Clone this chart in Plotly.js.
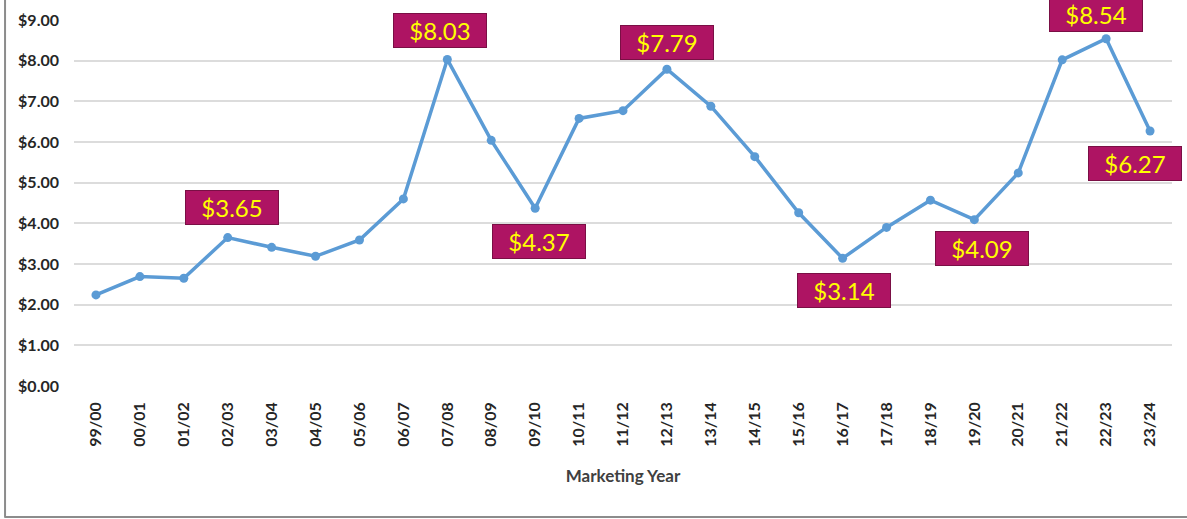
<!DOCTYPE html>
<html>
<head>
<meta charset="utf-8">
<script src="https://cdn.plot.ly/plotly-3.0.1.min.js"></script>
<style>html,body{margin:0;padding:0;background:#fff;}#chart{width:1187px;height:519px;}</style>
</head>
<body>
<div id="chart"></div>
<script>
// Marketing years (categories)
const years = ["99/00","00/01","01/02","02/03","03/04","04/05","05/06","06/07","07/08","08/09",
  "09/10","10/11","11/12","12/13","13/14","14/15","15/16","16/17","17/18","18/19",
  "19/20","20/21","21/22","22/23","23/24"];
// Price ($ per bushel)
const prices = [2.24,2.69,2.65,3.65,3.41,3.19,3.59,4.60,8.03,6.04,
  4.37,6.58,6.77,7.79,6.88,5.64,4.26,3.14,3.90,4.57,
  4.09,5.24,8.02,8.54,6.27];
// Years that carry a value label
const labeledYears = ["02/03","07/08","09/10","12/13","16/17","19/20","22/23","23/24"];
// Y tick values
const yTicks = [0,1,2,3,4,5,6,7,8,9];

// label placement (pixel shifts), kept apart from the data
const labelShift = {
  "02/03":[4,30], "07/08":[-7,29], "09/10":[4,-33], "12/13":[0,27],
  "16/17":[1,-32], "19/20":[8,-29], "22/23":[-10,24], "23/24":[-15,-32]
};

const trace = {
  type: "scatter",
  mode: "lines+markers",
  x: years,
  y: prices,
  line: {color: "#5B9BD5", width: 3.5},
  marker: {color: "#5B9BD5", size: 9},
  hoverinfo: "x+y"
};

const annotations = labeledYears.map(yr => {
  const i = years.indexOf(yr);
  const s = labelShift[yr];
  return {
    x: yr, y: prices[i], xref: "x", yref: "y",
    text: "$" + prices[i].toFixed(2),
    showarrow: false,
    xshift: s[0], yshift: s[1],
    font: {family: "Lato, 'Open Sans', sans-serif", size: 24, color: "#FFFF00"},
    bgcolor: "#AE1463",
    bordercolor: "#7A0F45",
    borderwidth: 1,
    borderpad: 1,
    width: 90, height: 31
  };
});

const tickFont = {family: "Lato, 'Open Sans', sans-serif", size: 16, color: "#262626", weight: "bold"};

const layout = {
  width: 1187, height: 519,
  margin: {l: 74, r: 15, t: 20, b: 133},
  paper_bgcolor: "#ffffff",
  plot_bgcolor: "#ffffff",
  showlegend: false,
  xaxis: {
    type: "category",
    range: [-0.5, years.length - 0.5],
    tickangle: -90,
    tickfont: tickFont,
    ticklabelstandoff: 12,
    showgrid: false,
    zeroline: false,
    showline: false,
    ticks: "",
    title: {text: "Marketing Year", font: {family: "Lato, 'Open Sans', sans-serif", size: 17, color: "#404040", weight: "bold"}, standoff: 24}
  },
  yaxis: {
    range: [0, 9],
    tickvals: yTicks,
    ticktext: yTicks.map(v => "$" + v.toFixed(2)),
    tickfont: tickFont,
    ticklabelstandoff: 14,
    showgrid: true,
    gridcolor: "#DCDCDC",
    gridwidth: 2,
    zeroline: false,
    showline: false,
    ticks: ""
  },
  annotations: annotations,
  shapes: [
    {type: "line", xref: "paper", yref: "paper", x0: -0.0628, x1: -0.0628, y0: -0.36, y1: 1.06,
     line: {color: "#8C8C8C", width: 2}},
    {type: "line", xref: "paper", yref: "paper", x0: -0.0628, x1: 1.02, y0: -0.358, y1: -0.358,
     line: {color: "#8C8C8C", width: 2}}
  ]
};

Plotly.newPlot("chart", [trace], layout, {staticPlot: true, displayModeBar: false});
</script>
</body>
</html>
